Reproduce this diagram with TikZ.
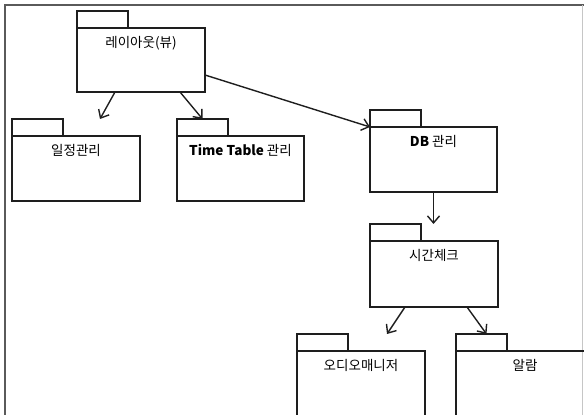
\documentclass[tikz,border=0pt]{standalone}
\usepackage{fontspec}
\setmainfont{Noto Sans CJK KR}
\usetikzlibrary{arrows.meta,positioning,calc}
\definecolor{FrameGray}{RGB}{90,90,90}
\definecolor{LineBlack}{RGB}{30,30,30}
\tikzset{
  pkgbox/.style={draw=LineBlack,line width=1.8pt,anchor=north west,
    minimum width=128pt,minimum height=65pt,inner sep=0pt,outer sep=0pt},
  pkgtab/.style={draw=LineBlack,line width=1.8pt,anchor=south west,
    minimum width=51pt,minimum height=17pt,inner sep=0pt,outer sep=0pt},
  pkgname/.style={anchor=north,inner sep=0pt,font=\fontsize{13.5}{15}\selectfont},
  arrow/.style={-{Straight Barb[length=7pt,width=12pt]},line width=1.4pt,LineBlack}
}

\begin{document}
\begin{tikzpicture}[x=1pt,y=1pt]
  \useasboundingbox (0,0) rectangle (584,415);
  \clip (0,0) rectangle (584,415);
  % frame
  \draw[FrameGray,line width=2pt] (5,0) -- (5,410) -- (584,410);
  \draw[gray!45,line width=1pt] (582,410) -- (582,0);

  % packages
  \node[pkgbox,minimum height=64pt] (layout) at (77,387) {};
  \node[pkgtab] (layouttab) at (layout.north west) {};
  \node[pkgname] (layouttext) at ([yshift=-8pt]layout.north) {레이아웃(뷰)};

  \node[pkgbox] (schedule) at (12,279) {};
  \node[pkgtab] (scheduletab) at (schedule.north west) {};
  \node[pkgname] (scheduletext) at ([yshift=-8pt]schedule.north) {일정관리};

  \node[pkgbox,minimum width=127pt] (timetable) at (177,279) {};
  \node[pkgtab] (timetabletab) at (timetable.north west) {};
  \node[pkgname] (timetabletext) at ([yshift=-8pt]timetable.north) {\textbf{Time Table} 관리};

  \node[pkgbox,minimum width=127pt] (db) at (370,288) {};
  \node[pkgtab] (dbtab) at (db.north west) {};
  \node[pkgname] (dbtext) at ([yshift=-8pt]db.north) {\textbf{DB} 관리};

  \node[pkgbox,minimum height=66pt] (timecheck) at (370,174) {};
  \node[pkgtab] (timechecktab) at (timecheck.north west) {};
  \node[pkgname] (timechecktext) at ([yshift=-8pt]timecheck.north) {시간체크};

  \node[pkgbox,minimum height=80pt] (audio) at (297,64) {};
  \node[pkgtab] (audiotab) at (audio.north west) {};
  \node[pkgname] (audiotext) at ([yshift=-8pt]audio.north) {오디오매니저};

  \node[pkgbox,minimum width=138pt,minimum height=80pt] (alarm) at (456,64) {};
  \node[pkgtab] (alarmtab) at (alarm.north west) {};
  \node[pkgname] (alarmtext) at ([yshift=-8pt]alarm.north) {알람};

  % dependencies
  \coordinate (scheduleend) at ([shift={(24,17)}]schedule.north);
  \coordinate (timecheckend) at (db.south |- timechecktab.north);
  \coordinate (audioend) at ([shift={(26,17)}]audio.north);
  \draw[arrow] ([xshift=-26pt]layout.south) -- (scheduleend);
  \draw[arrow] ([xshift=39pt]layout.south) -- (timetabletab.north);
  \draw[arrow] ([yshift=-15pt]layout.east) -- (db.north west);
  \draw[arrow] (db.south) -- (timecheckend);
  \draw[arrow] ([xshift=-29pt]timecheck.south) -- (audioend);
  \draw[arrow] ([xshift=33pt]timecheck.south) -- ([xshift=5pt]alarmtab.north);
\end{tikzpicture}
\end{document}
